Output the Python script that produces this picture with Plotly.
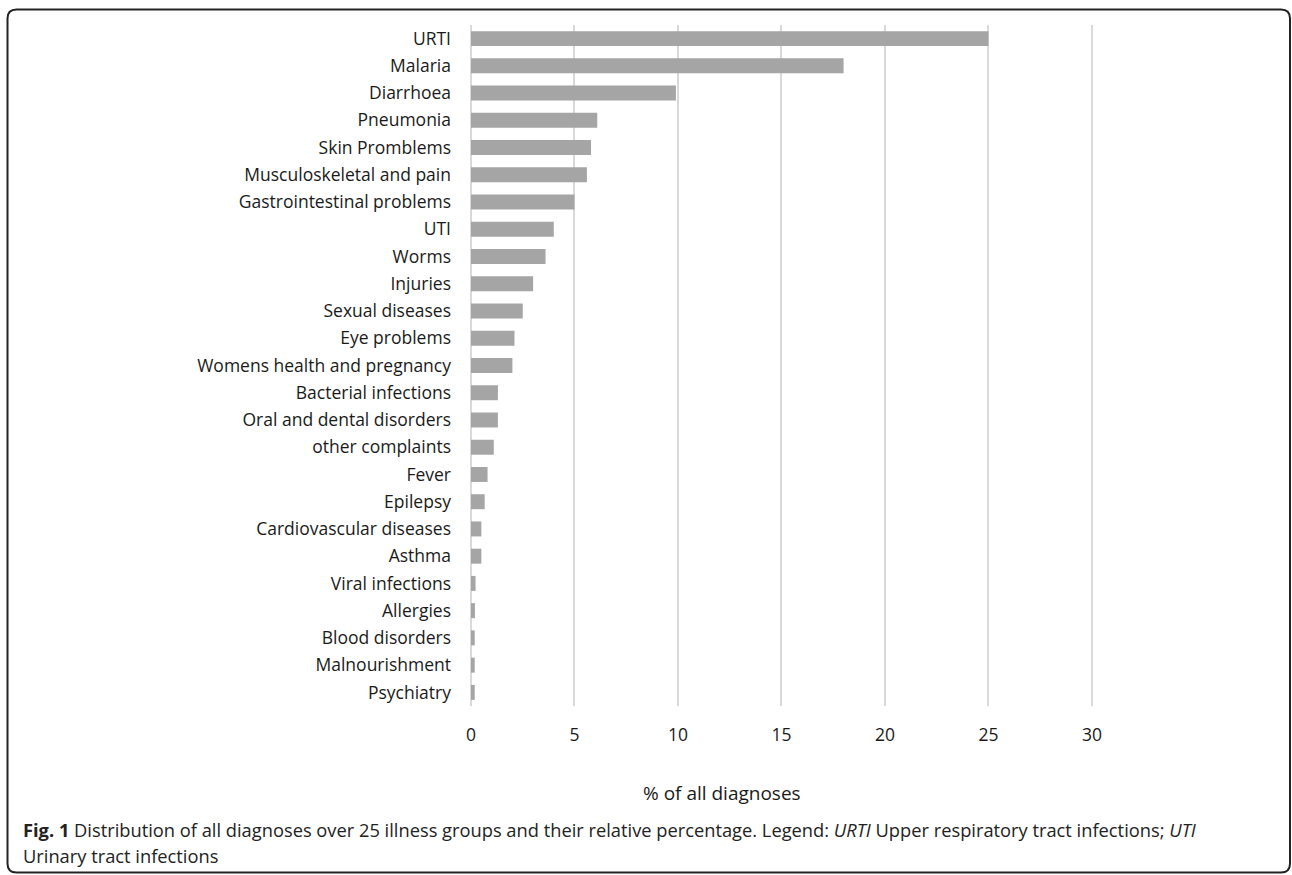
import plotly.graph_objects as go

# Illness groups (top to bottom) and their share of all diagnoses (%)
categories = [
    "URTI", "Malaria", "Diarrhoea", "Pneumonia", "Skin Promblems",
    "Musculoskeletal and pain", "Gastrointestinal problems", "UTI", "Worms",
    "Injuries", "Sexual diseases", "Eye problems", "Womens health and pregnancy",
    "Bacterial infections", "Oral and dental disorders", "other complaints",
    "Fever", "Epilepsy", "Cardiovascular diseases", "Asthma", "Viral infections",
    "Allergies", "Blood disorders", "Malnourishment", "Psychiatry",
]
percentages = [
    25.0, 18.0, 9.9, 6.1, 5.8,
    5.6, 5.0, 4.0, 3.6,
    3.0, 2.5, 2.1, 2.0,
    1.3, 1.3, 1.1,
    0.8, 0.66, 0.5, 0.5, 0.22,
    0.19, 0.18, 0.18, 0.18,
]
x_ticks = [0, 5, 10, 15, 20, 25, 30]

W, H = 1292, 875
ML, MR, MT, MB = 471, 199, 25, 169
PW, PH = W - ML - MR, H - MT - MB

def px(x):
    return (x - ML) / PW

def py(y):
    return (H - MB - y) / PH

LABEL_FONT = "'Open Sans', Calibri, sans-serif"
CAP_FONT = "'Open Sans', 'Noto Sans', sans-serif"

fig = go.Figure(
    go.Bar(
        x=percentages,
        y=categories,
        orientation="h",
        marker=dict(color="#a5a5a5", line=dict(width=0)),
        width=0.55,
        hoverinfo="x+y",
    )
)

fig.update_yaxes(
    categoryorder="array",
    categoryarray=categories,
    autorange="reversed",
    showgrid=False,
    showline=False,
    ticks="",
    ticklabelstandoff=19,
    tickfont=dict(family=LABEL_FONT, size=17.5, color="#1a1a1a"),
)
fig.update_xaxes(
    range=[0, 30.05],
    tickvals=x_ticks,
    showgrid=True,
    gridcolor="#d9d9d9",
    gridwidth=2,
    zeroline=True,
    zerolinecolor="#d9d9d9",
    zerolinewidth=2,
    showline=False,
    ticks="",
    ticklabelstandoff=16,
    tickfont=dict(family=LABEL_FONT, size=17.5, color="#1a1a1a"),
)

# rounded frame around the whole figure
x0, y0, x1, y1, r = 7.5, 9.5, 1290, 872.5, 9
path = (
    f"M {px(x0 + r)},{py(y0)} L {px(x1 - r)},{py(y0)} "
    f"Q {px(x1)},{py(y0)} {px(x1)},{py(y0 + r)} "
    f"L {px(x1)},{py(y1 - r)} Q {px(x1)},{py(y1)} {px(x1 - r)},{py(y1)} "
    f"L {px(x0 + r)},{py(y1)} Q {px(x0)},{py(y1)} {px(x0)},{py(y1 - r)} "
    f"L {px(x0)},{py(y0 + r)} Q {px(x0)},{py(y0)} {px(x0 + r)},{py(y0)} Z"
)
fig.add_shape(type="path", path=path, xref="paper", yref="paper",
              line=dict(color="#222222", width=2), layer="above")

fig.add_annotation(
    text="% of all diagnoses", x=px(722), y=py(793), xref="paper", yref="paper",
    showarrow=False, xanchor="center", yanchor="middle",
    font=dict(family=LABEL_FONT, size=19, color="#1a1a1a"),
)

# figure caption, one annotation per line
caption_lines = [
    "<b>Fig. 1</b> Distribution of all diagnoses over 25 illness groups and their relative "
    "percentage. Legend: <i>URTI</i> Upper respiratory tract infections; <i>UTI</i>",
    "Urinary tract infections",
]
for line, y_pix in zip(caption_lines, [829.5, 855.5]):
    fig.add_annotation(
        text=line, x=px(21), y=py(y_pix), xref="paper", yref="paper",
        showarrow=False, xanchor="left", yanchor="middle", align="left",
        font=dict(family=CAP_FONT, size=18.3, color="#222222"),
    )

fig.update_layout(
    width=W, height=H,
    margin=dict(l=ML, r=MR, t=MT, b=MB),
    paper_bgcolor="white", plot_bgcolor="white",
    showlegend=False,
    bargap=0.45,
)

fig.write_html("out.html")
